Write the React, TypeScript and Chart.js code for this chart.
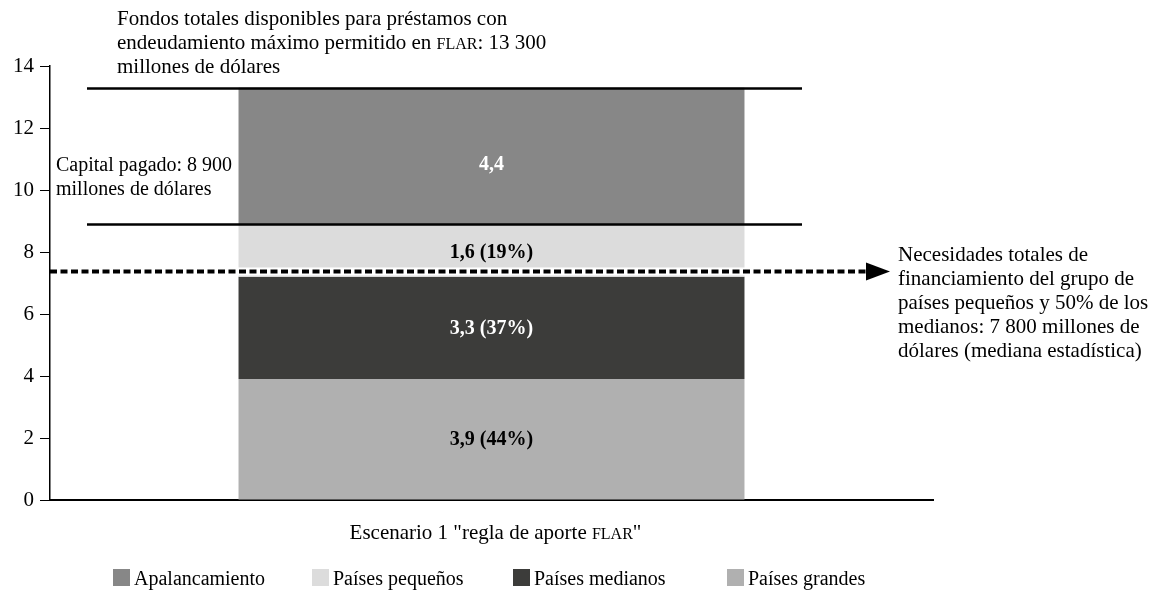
import { useEffect, useRef } from 'react';
import { Chart, registerables } from 'chart.js';

Chart.register(...registerables);

// ---------- data ----------
const categories = ['Escenario 1 "regla de aporte {FLAR}"'];
const seriesNames = ['Apalancamiento', 'Países pequeños', 'Países medianos', 'Países grandes'];
const segStart = [8.9, 7.2, 3.9, 0];
const segEnd = [13.3, 8.9, 7.2, 3.9];
const segLabels = ['4,4', '1,6 (19%)', '3,3 (37%)', '3,9 (44%)'];
const segLabelColors = ['#ffffff', '#000000', '#ffffff', '#000000'];
const seriesColors = ['#878787', '#dcdcdc', '#3c3c3a', '#b0b0b0'];
const yTicksMax = 14;
const yTickStep = 2;
const refLineValues = [13.3, 8.9];
const needsValue = 7.4;

const topNote = [
  'Fondos totales disponibles para préstamos con',
  'endeudamiento máximo permitido en {FLAR}: 13 300',
  'millones de dólares',
];
const capitalNote = ['Capital pagado: 8 900', 'millones de dólares'];
const needsNote = [
  'Necesidades totales de',
  'financiamiento del grupo de',
  'países pequeños y 50% de los',
  'medianos: 7 800 millones de',
  'dólares (mediana estadística)',
];

// ---------- layout ----------
const FAMILY = '"Liberation Serif", "Times New Roman", serif';
const FS = 21;
const LH = 24;
const labelNudge = [9, 2, 1, 0];

function drawRich(ctx: CanvasRenderingContext2D, text: string, x: number, y: number, align: 'left' | 'center', size = FS, bold = false) {
  const parts: { t: string; sc: boolean }[] = [];
  const re = /\{([^}]*)\}/g;
  let last = 0;
  let m: RegExpExecArray | null;
  while ((m = re.exec(text))) {
    if (m.index > last) parts.push({ t: text.slice(last, m.index), sc: false });
    parts.push({ t: m[1], sc: true });
    last = m.index + m[0].length;
  }
  if (last < text.length) parts.push({ t: text.slice(last), sc: false });
  const fontFor = (sc: boolean) => `${bold ? 'bold ' : ''}${sc ? Math.round(size * 0.74) : size}px ${FAMILY}`;
  let total = 0;
  for (const p of parts) {
    ctx.font = fontFor(p.sc);
    total += ctx.measureText(p.t).width;
  }
  let cx = align === 'center' ? x - total / 2 : x;
  ctx.textBaseline = 'alphabetic';
  ctx.textAlign = 'left';
  for (const p of parts) {
    ctx.font = fontFor(p.sc);
    ctx.fillText(p.t, cx, y);
    cx += ctx.measureText(p.t).width;
  }
}

const annotPlugin = {
  id: 'annot',
  afterDatasetsDraw(chart: any) {
    const ctx: CanvasRenderingContext2D = chart.ctx;
    const ys = chart.scales.y;
    const area = chart.chartArea;
    ctx.save();
    // segment labels
    chart.data.datasets.forEach((ds: any, i: number) => {
      const bar = chart.getDatasetMeta(i).data[0];
      const yc = (ys.getPixelForValue(segStart[i]) + ys.getPixelForValue(segEnd[i])) / 2;
      ctx.fillStyle = segLabelColors[i];
      ctx.font = `bold 20px ${FAMILY}`;
      ctx.textAlign = 'center';
      ctx.textBaseline = 'middle';
      ctx.fillText(segLabels[i], bar.x, yc + labelNudge[i]);
    });
    // reference lines
    ctx.strokeStyle = '#000';
    ctx.lineWidth = 2.5;
    for (const v of refLineValues) {
      const y = Math.round(ys.getPixelForValue(v)) + 0.5;
      ctx.beginPath();
      ctx.moveTo(87, y);
      ctx.lineTo(802, y);
      ctx.stroke();
    }
    // needs dashed line with arrow
    const yn = ys.getPixelForValue(needsValue) + 1;
    ctx.strokeStyle = '#fff';
    ctx.lineWidth = 8;
    ctx.beginPath();
    ctx.moveTo(area.left + 1, yn);
    ctx.lineTo(868, yn);
    ctx.stroke();
    ctx.strokeStyle = '#000';
    ctx.lineWidth = 4;
    ctx.setLineDash([7, 3.5]);
    ctx.beginPath();
    ctx.moveTo(area.left, yn);
    ctx.lineTo(868, yn);
    ctx.stroke();
    ctx.setLineDash([]);
    ctx.fillStyle = '#000';
    ctx.beginPath();
    ctx.moveTo(866, yn - 9);
    ctx.lineTo(890, yn);
    ctx.lineTo(866, yn + 9);
    ctx.closePath();
    ctx.fill();
    ctx.restore();
  },
  afterDraw(chart: any) {
    const ctx: CanvasRenderingContext2D = chart.ctx;
    const xs = chart.scales.x;
    ctx.save();
    ctx.fillStyle = '#000';
    topNote.forEach((t, i) => drawRich(ctx, t, 117, 25 + i * LH, 'left'));
    capitalNote.forEach((t, i) => drawRich(ctx, t, 56, 171 + i * LH, 'left', 20));
    needsNote.forEach((t, i) => drawRich(ctx, t, 898, 261 + i * LH, 'left'));
    // category label
    categories.forEach((c, i) => drawRich(ctx, c, xs.getPixelForValue(i) + 4, 539, 'center'));
    // legend
    const slots = [113, 312, 513, 727];
    seriesNames.forEach((n, i) => {
      ctx.fillStyle = seriesColors[i];
      ctx.fillRect(slots[i], 569, 17, 17);
      ctx.fillStyle = '#000';
      drawRich(ctx, n, slots[i] + 21, 585, 'left', 20);
    });
    ctx.restore();
  },
};

export default function App() {
  const ref = useRef<HTMLCanvasElement>(null);
  useEffect(() => {
    if (!ref.current) return;
    const chart = new Chart(ref.current, {
      type: 'bar',
      data: {
        labels: categories,
        datasets: seriesNames.map((n, i) => ({
          label: n,
          data: [[segStart[i], segEnd[i]]] as any,
          backgroundColor: seriesColors[i],
          borderWidth: 0,
          grouped: false,
          barPercentage: 0.573,
          categoryPercentage: 1,
        })),
      },
      options: {
        responsive: false,
        animation: false,
        devicePixelRatio: 1,
        layout: { padding: { top: 66, right: 222, bottom: 99, left: 0 } },
        plugins: { legend: { display: false }, tooltip: { enabled: false } },
        scales: {
          x: {
            grid: { display: false },
            ticks: { display: false },
            border: { color: '#000', width: 2 },
            afterFit: (s: any) => { s.height = 0; },
          },
          y: {
            min: 0,
            max: yTicksMax,
            ticks: { stepSize: yTickStep, color: '#000', font: { family: FAMILY, size: FS }, padding: 6 },
            grid: { drawOnChartArea: false, drawTicks: true, tickLength: 10, color: '#000' },
            border: { color: '#000', width: 1.5 },
            afterFit: (s: any) => { s.width = 50; },
          },
        },
      },
      plugins: [annotPlugin],
    });
    return () => chart.destroy();
  }, []);
  return (
    <div style={{ position: 'fixed', left: 0, top: 0, width: 1155, height: 599, background: '#fff' }}>
      <canvas ref={ref} width={1155} height={599} style={{ display: 'block' }} />
    </div>
  );
}
